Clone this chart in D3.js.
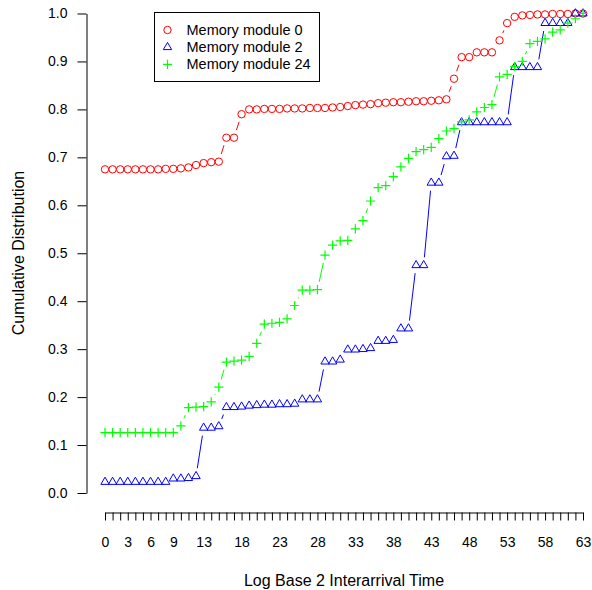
<!DOCTYPE html>
<html>
<head>
<meta charset="utf-8">
<script src="https://cdn.jsdelivr.net/npm/d3@7"></script>
<style>
  body { margin: 0; background: #fff; }
  text { font-family: "Liberation Sans", Arial, sans-serif; }
</style>
</head>
<body>
<div id="viz"></div>
<script>
// data (index 0..63 on the x axis)
var seriesNames = ["Memory module 0", "Memory module 2", "Memory module 24"];
var module0 = [0.675,0.675,0.675,0.675,0.675,0.675,0.675,0.675,0.676,0.676,
               0.677,0.679,0.684,0.688,0.690,0.691,0.741,0.741,0.790,0.800,
               0.800,0.801,0.801,0.801,0.802,0.802,0.802,0.803,0.803,0.803,
               0.804,0.805,0.807,0.809,0.810,0.811,0.813,0.814,0.815,0.815,
               0.816,0.817,0.817,0.818,0.819,0.821,0.864,0.909,0.909,0.919,
               0.919,0.919,0.944,0.980,0.993,0.996,0.997,0.998,0.998,0.999,
               0.999,0.999,1.000,1.000];
var module2 = [0.023,0.023,0.023,0.023,0.023,0.023,0.023,0.023,0.023,0.030,
               0.030,0.031,0.035,0.136,0.136,0.139,0.179,0.179,0.180,0.182,
               0.183,0.184,0.184,0.185,0.185,0.186,0.195,0.195,0.195,0.274,
               0.274,0.278,0.299,0.299,0.300,0.302,0.317,0.317,0.319,0.343,
               0.343,0.475,0.475,0.647,0.647,0.702,0.703,0.773,0.773,0.773,
               0.773,0.773,0.773,0.773,0.888,0.888,0.888,0.888,0.980,0.980,
               0.980,0.980,1.000,1.000];
var module24 = [0.126,0.126,0.126,0.126,0.126,0.126,0.126,0.126,0.126,0.126,
                0.140,0.178,0.179,0.180,0.190,0.221,0.273,0.275,0.277,0.285,
                0.312,0.352,0.354,0.356,0.363,0.391,0.423,0.423,0.424,0.496,
                0.517,0.526,0.527,0.551,0.568,0.609,0.637,0.641,0.660,0.680,
                0.698,0.712,0.716,0.721,0.739,0.755,0.760,0.774,0.778,0.795,
                0.804,0.810,0.868,0.873,0.889,0.900,0.937,0.942,0.947,0.961,
                0.966,0.980,0.989,1.000];
var xLabels = [0,3,6,9,13,18,23,28,33,38,43,48,53,58,63];
var yTicks = [0,0.1,0.2,0.3,0.4,0.5,0.6,0.7,0.8,0.9,1.0];

var colors = ["#ff0000", "#0000ff", "#00ff00"];
var shapes = ["circle", "triangle", "plus"];

var svg = d3.select("#viz").append("svg")
    .attr("width", 592).attr("height", 590);

var x = d3.scaleLinear().domain([0, 63]).range([105, 583]);
var y = d3.scaleLinear().domain([0, 1]).range([493, 13.5]);

// axes
var xAxis = svg.append("g")
    .attr("transform", "translate(0,512.5)")
    .call(d3.axisBottom(x)
        .tickValues(d3.range(64))
        .tickSize(8).tickSizeOuter(0).tickPadding(16.5)
        .tickFormat(function (d) { return xLabels.indexOf(d) >= 0 ? d : ""; }));
var yAxis = svg.append("g")
    .attr("transform", "translate(86.5,0)")
    .call(d3.axisLeft(y)
        .tickValues(yTicks)
        .tickSize(9).tickSizeOuter(0).tickPadding(10)
        .tickFormat(d3.format(".1f")));
svg.selectAll(".tick text")
    .attr("fill", "#000")
    .style("font-family", '"Liberation Sans", Arial, sans-serif')
    .style("font-size", "14px");
svg.selectAll(".domain, .tick line").attr("stroke", "#000");

svg.append("text")
    .attr("x", 344).attr("y", 586)
    .attr("text-anchor", "middle")
    .style("font-size", "16px")
    .text("Log Base 2 Interarrival Time");
svg.append("text")
    .attr("transform", "translate(24,253) rotate(-90)")
    .attr("text-anchor", "middle")
    .style("font-size", "16px")
    .text("Cumulative Distribution");

function drawSymbol(g, shape, cx, cy, color) {
    if (shape === "circle") {
        g.append("circle").attr("cx", cx).attr("cy", cy).attr("r", 3.7)
            .attr("fill", "none").attr("stroke", color).attr("stroke-width", 1);
    } else if (shape === "triangle") {
        var r = 4.8;
        var pts = [[cx, cy - r], [cx + r * 0.866, cy + r / 2], [cx - r * 0.866, cy + r / 2]];
        g.append("path").attr("d", "M" + pts.join("L") + "Z")
            .attr("fill", "none").attr("stroke", color).attr("stroke-width", 1);
    } else {
        var h = 4.6;
        g.append("path")
            .attr("d", "M" + (cx - h) + "," + cy + "H" + (cx + h) + "M" + cx + "," + (cy - h) + "V" + (cy + h))
            .attr("fill", "none").attr("stroke", color).attr("stroke-width", 1.2);
    }
}

// series: points joined by lines that stop short of each point
var allSeries = [module0, module2, module24];
var gap = 8;
allSeries.forEach(function (vals, k) {
    var g = svg.append("g");
    for (var i = 0; i < vals.length - 1; i++) {
        var x0 = x(i), y0 = y(vals[i]), x1 = x(i + 1), y1 = y(vals[i + 1]);
        var dx = x1 - x0, dy = y1 - y0, len = Math.sqrt(dx * dx + dy * dy);
        if (len <= 2 * gap) continue;
        var ux = dx / len, uy = dy / len;
        g.append("line")
            .attr("x1", x0 + ux * gap).attr("y1", y0 + uy * gap)
            .attr("x2", x1 - ux * gap).attr("y2", y1 - uy * gap)
            .attr("stroke", colors[k]).attr("stroke-width", 1);
    }
    vals.forEach(function (v, i) {
        drawSymbol(g, shapes[k], x(i), y(v), colors[k]);
    });
});

// legend
var leg = svg.append("g");
leg.append("rect")
    .attr("x", 154.5).attr("y", 12.5).attr("width", 165).attr("height", 69)
    .attr("fill", "#fff").attr("stroke", "#000").attr("stroke-width", 1);
seriesNames.forEach(function (name, k) {
    var cy = 30 + k * 17.2;
    drawSymbol(leg, shapes[k], 167.5, cy, colors[k]);
    leg.append("text")
        .attr("x", 186.5).attr("y", cy + 5)
        .style("font-size", "14.5px")
        .text(name);
});
</script>
</body>
</html>
